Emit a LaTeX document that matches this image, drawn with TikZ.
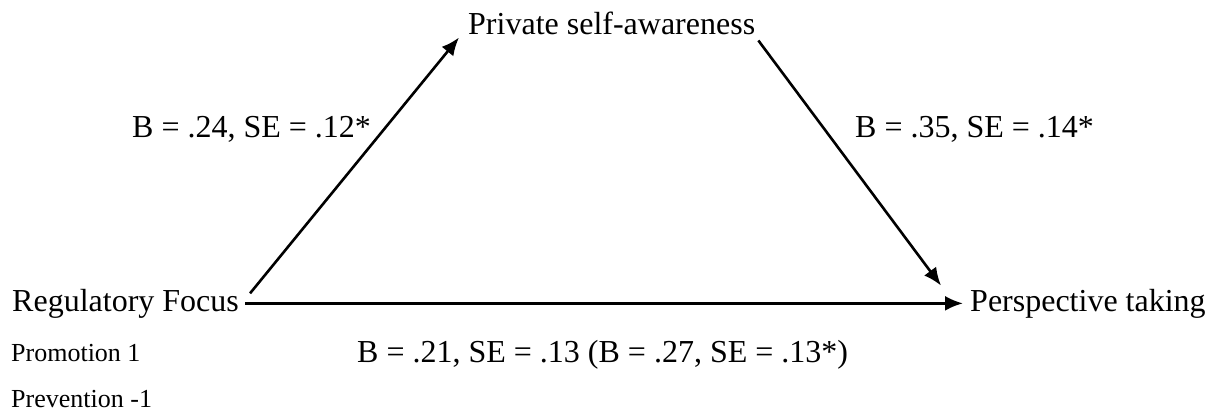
\documentclass[tikz,border=0pt]{standalone}
\usepackage{fontspec}
\setmainfont{Liberation Serif}
\usetikzlibrary{arrows.meta}
\begin{document}
\begin{tikzpicture}[x=1pt,y=-1pt,
  var/.style={inner sep=3pt,font=\fontsize{32}{36}\selectfont},
  lbl/.style={inner sep=0pt,anchor=base west,font=\fontsize{32}{36}\selectfont},
  small/.style={inner sep=0pt,anchor=base west,font=\fontsize{26}{30}\selectfont},
  arr/.style={line width=2.6pt,-{Latex[length=18pt,width=15pt]}}]
\useasboundingbox (0,0) rectangle (1217,412);
\node[var,anchor=base west] (RF) at (9,311) {Regulatory Focus};
\node[var,anchor=base west] (PSA) at (465,35) {Private self-awareness};
\node[var,anchor=base west] (PT) at (967,311) {Perspective taking};
\node[lbl] (L1) at (132,137) {B = .24, SE = .12*};
\node[lbl] (L2) at (855,137) {B = .35, SE = .14*};
\node[lbl] (L3) at (357,362) {B = .21, SE = .13 (B = .27, SE = .13*)};
\node[small] (P1) at (11,361) {Promotion 1};
\node[small] (P2) at (11,407) {Prevention -1};
\draw[arr] ([xshift=8pt,yshift=10pt]RF.east) -- ([xshift=-6pt,yshift=1pt]PSA.south west);
\draw[arr] ([yshift=-2pt]PSA.south east) -- ([xshift=-26pt]PT.north west);
\draw[arr] ([xshift=3pt]RF.east) -- ([xshift=-4pt]PT.west);
\end{tikzpicture}
\end{document}
